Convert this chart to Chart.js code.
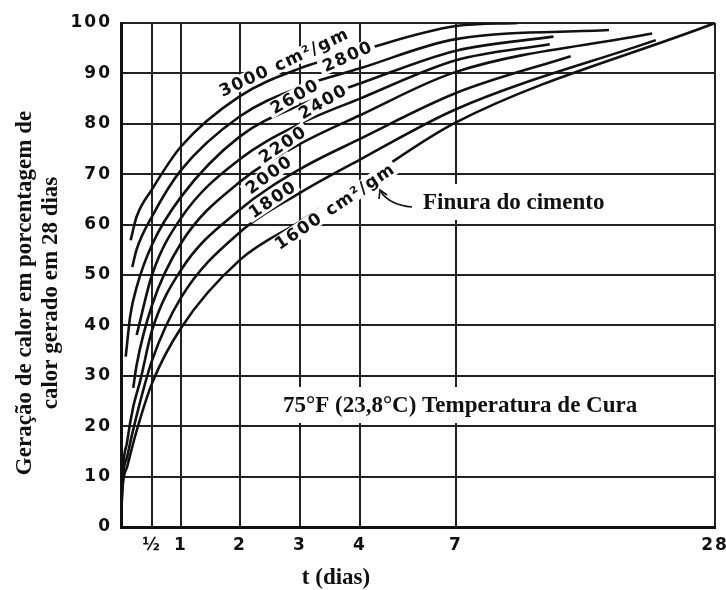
<!DOCTYPE html>
<html>
<head>
<meta charset="utf-8">
<script src="https://cdn.jsdelivr.net/npm/chart.js@4.4.1/dist/chart.umd.min.js"></script>
<style>
  html, body { margin: 0; padding: 0; background: #fff; }
  #c { display: block; }
</style>
</head>
<body>
<canvas id="c" width="726" height="590"></canvas>
<script>
// Age axis (days) and the labels shown under it
const tickDays = [0, 0.5, 1, 2, 3, 4, 7, 28];
const tickLabels = ['', '½', '1', '2', '3', '4', '7', '28'];

// Heat generated, as % of the heat generated in 28 days, by cement fineness (cm²/gm)
const days3000 = [0.156, 0.25, 0.5, 1, 2, 3, 4, 7, 12];
const heat3000 = [56.9, 61.5, 67, 75.5, 85.5, 91, 94.5, 99.4, 100];

const days2800 = [0.182, 0.25, 0.5, 1, 2, 3, 4, 7, 19.4];
const heat2800 = [51.6, 55, 61.6, 70.8, 81.5, 87.3, 91, 96.8, 98.6];

const days2600 = [0.076, 0.15, 0.25, 0.5, 1, 2, 3, 4, 7, 14.9];
const heat2600 = [33.8, 42, 47.5, 56, 65.5, 77.5, 83.7, 88, 94.5, 97.3];

const days2400 = [0.253, 0.5, 1, 2, 3, 4, 7, 14.6];
const heat2400 = [38.1, 50, 61.3, 73, 80, 85, 92.6, 95.8];

const days2200 = [0.198, 0.25, 0.5, 1, 2, 3, 4, 7, 22.9];
const heat2200 = [27.6, 32, 44, 56.3, 68.5, 76, 81.7, 90.3, 97.9];

const days2000 = [0, 0.02, 0.1, 0.2, 0.31, 0.5, 1, 2, 3, 4, 7, 16.3];
const heat2000 = [0, 9, 17, 24, 29, 39, 51, 63, 71, 77, 86.1, 93.4];

const days1800 = [0, 0.02, 0.1, 0.25, 0.5, 1, 2, 3, 4, 7, 23.2];
const heat1800 = [0, 8, 14, 22, 33, 45.5, 58.5, 66.3, 72.9, 82.9, 96.6];

const days1600 = [0, 0.02, 0.1, 0.25, 0.5, 1, 2, 3, 4, 7, 28];
const heat1600 = [0, 7, 12, 19, 28.5, 39.5, 53, 60.6, 68.2, 80.3, 100];

const curveNames = ['3000 cm²/gm', '2800', '2600', '2400', '2200', '2000', '1800', '1600 cm²/gm'];

// Age axis whose day spacing changes between the labelled ages
class StretchedDayScale extends Chart.LinearScale {
  buildTicks() {
    this.start = this.min;
    this.end = this.max;
    return tickDays.map(value => ({ value }));
  }
  _toDecimal(v) {
    const b = this.options.breaks;
    if (v <= tickDays[0]) return b[0];
    for (let i = 1; i < tickDays.length; i++) {
      if (v <= tickDays[i]) {
        return b[i - 1] + (v - tickDays[i - 1]) / (tickDays[i] - tickDays[i - 1]) * (b[i] - b[i - 1]);
      }
    }
    return b[b.length - 1];
  }
  getPixelForValue(v) {
    return this.getPixelForDecimal(this._toDecimal(v));
  }
  getValueForPixel(p) {
    const d = this.getDecimalForPixel(p);
    const b = this.options.breaks;
    for (let i = 1; i < b.length; i++) {
      if (d <= b[i]) {
        return tickDays[i - 1] + (d - b[i - 1]) / (b[i] - b[i - 1]) * (tickDays[i] - tickDays[i - 1]);
      }
    }
    return tickDays[tickDays.length - 1];
  }
}
StretchedDayScale.id = 'stretchedDays';
StretchedDayScale.defaults = Chart.LinearScale.defaults;
Chart.register(StretchedDayScale);

const series = [
  [days3000, heat3000], [days2800, heat2800], [days2600, heat2600], [days2400, heat2400],
  [days2200, heat2200], [days2000, heat2000], [days1800, heat1800], [days1600, heat1600]
];

const datasets = series.map(([d, h], k) => ({
  label: curveNames[k],
  data: d.map((x, i) => ({ x, y: h[i] })),
  borderColor: '#111',
  borderWidth: 2.6,
  pointRadius: 0,
  fill: false,
  cubicInterpolationMode: 'monotone'
}));

// Where each fineness label sits along its curve (day, %), and its slope on screen
const curveLabelSpots = [
  { day: 2.72, val: 92.1, angle: -25 },
  { day: 3.78, val: 93.3, angle: -24 },
  { day: 2.9, val: 85.3, angle: -30 },
  { day: 3.37, val: 84.3, angle: -30 },
  { day: 2.7, val: 75.8, angle: -34 },
  { day: 2.47, val: 69.8, angle: -36 },
  { day: 2.53, val: 64.9, angle: -34 },
  { day: 3.57, val: 63.5, angle: -34 }
];

const serifBold = 'bold 23px "Liberation Serif", "Times New Roman", serif';
const sansBold = 'bold 17px "DejaVu Sans", sans-serif';

const textPlugin = {
  id: 'chartTexts',
  beforeDraw(chart) {
    // wide spacing for the axis numbers
    chart.ctx.letterSpacing = '2px';
  },
  beforeDatasetsDraw(chart) {
    chart.ctx.letterSpacing = '0px';
  },
  afterDatasetsDraw(chart) {
    const { ctx, scales } = chart;
    const x = scales.x, y = scales.y;
    ctx.save();

    // fineness labels written along the curves
    ctx.font = sansBold;
    ctx.letterSpacing = '1.5px';
    ctx.textAlign = 'center';
    ctx.textBaseline = 'middle';
    curveLabelSpots.forEach((s, k) => {
      const px = x.getPixelForValue(s.day);
      const py = y.getPixelForValue(s.val);
      ctx.save();
      ctx.translate(px, py);
      ctx.rotate(s.angle * Math.PI / 180);
      const w = ctx.measureText(curveNames[k]).width;
      ctx.fillStyle = '#fff';
      ctx.fillRect(-w / 2 - 3, -8, w + 6, 16);
      ctx.fillStyle = '#111';
      ctx.fillText(curveNames[k], 1, 1);
      ctx.restore();
    });
    ctx.letterSpacing = '0px';

    // notes inside the plot
    ctx.font = serifBold;
    ctx.textAlign = 'left';
    ctx.textBaseline = 'alphabetic';
    const notes = [
      { text: 'Finura do cimento', x: 423, y: 209 },
      { text: '75°F (23,8°C) Temperatura de Cura', x: 283, y: 412 }
    ];
    notes.forEach(n => {
      const w = ctx.measureText(n.text).width;
      ctx.fillStyle = '#fff';
      ctx.fillRect(n.x - 5, n.y - 25, w + 10, 36);
      ctx.fillStyle = '#111';
      ctx.fillText(n.text, n.x, n.y);
    });

    // pointer from the note to the 1600 curve label
    ctx.strokeStyle = '#111';
    ctx.lineWidth = 1.6;
    ctx.beginPath();
    ctx.moveTo(412, 207);
    ctx.quadraticCurveTo(390, 205, 381, 192);
    ctx.stroke();
    ctx.beginPath();
    ctx.moveTo(379, 199);
    ctx.lineTo(380, 190);
    ctx.lineTo(387, 195);
    ctx.stroke();

    // axis titles
    ctx.fillStyle = '#111';
    ctx.textAlign = 'center';
    ctx.textBaseline = 'middle';
    ctx.fillText('t (dias)', 336, 578);
    ctx.save();
    ctx.translate(25, 293);
    ctx.rotate(-Math.PI / 2);
    ctx.fillText('Geração de calor em porcentagem de', 0, 0);
    ctx.fillText('calor gerado em 28 dias', 0, 26);
    ctx.restore();

    ctx.restore();
  }
};

new Chart(document.getElementById('c'), {
  type: 'line',
  data: { datasets },
  plugins: [textPlugin],
  options: {
    responsive: false,
    animation: false,
    events: [],
    layout: { padding: { top: 23, right: 11, left: 0, bottom: 0 } },
    plugins: { legend: { display: false }, tooltip: { enabled: false } },
    scales: {
      x: {
        type: 'stretchedDays',
        min: 0,
        max: 28,
        breaks: [0, 31 / 594, 60 / 594, 119 / 594, 179 / 594, 239 / 594, 335 / 594, 1],
        grid: { color: '#222', lineWidth: 2, drawTicks: false },
        border: { color: '#111', width: 3 },
        ticks: {
          autoSkip: false,
          maxRotation: 0,
          padding: 8,
          color: '#111',
          font: { family: 'DejaVu Sans', weight: 'bold', size: 17 },
          callback: (v, i) => tickLabels[i]
        },
        afterFit: s => { s.height = 63; s.paddingLeft = 0; s.paddingRight = 0; }
      },
      y: {
        type: 'linear',
        min: 0,
        max: 100,
        ticks: {
          stepSize: 10,
          padding: 9,
          color: '#111',
          font: { family: 'DejaVu Sans', weight: 'bold', size: 17 }
        },
        grid: { color: '#222', lineWidth: 2, drawTicks: false },
        border: { color: '#111', width: 3 },
        afterFit: s => { s.width = 121; }
      }
    }
  }
});
</script>
</body>
</html>
